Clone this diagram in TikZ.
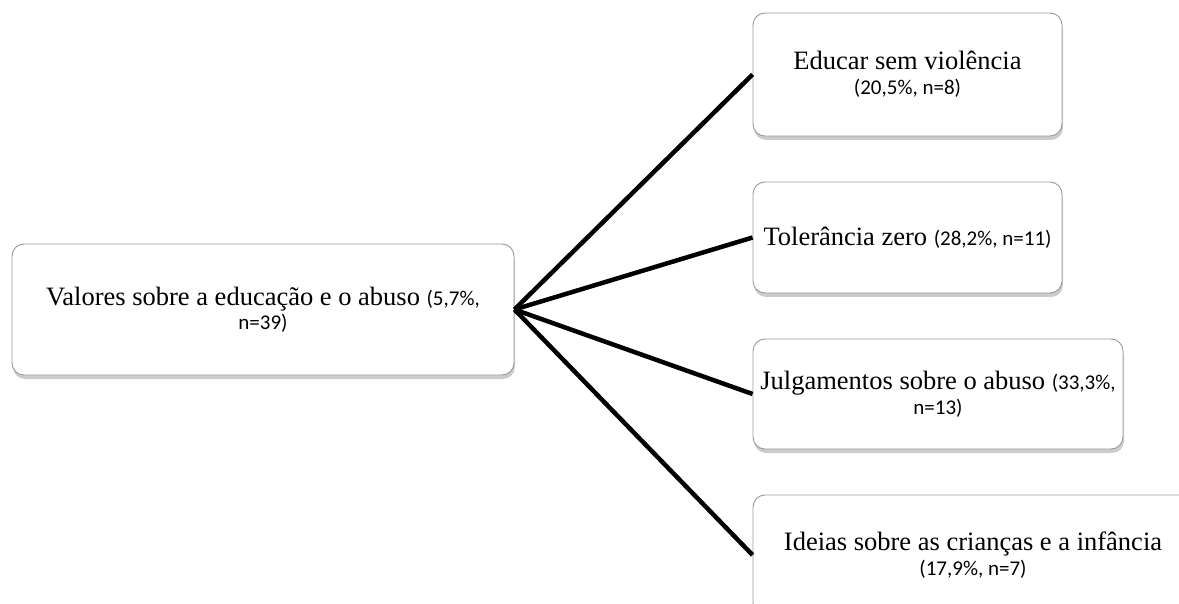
\documentclass[tikz,border=0pt]{standalone}
\usepackage{fontspec}
\setmainfont{Liberation Serif}
\newfontfamily\statfont{Carlito}
\usetikzlibrary{shadows}
\newcommand\statpct[1]{{\statfont\fontsize{21}{25}\selectfont #1}}

\begin{document}
\begin{tikzpicture}[x=1pt, y=-1pt, inner sep=3pt]
    \useasboundingbox (0,0) rectangle (1179,604);

    \tikzstyle{myBox}=[draw=gray!80, fill=white, rounded corners=12pt, line width=0.9pt,
        align=center, font=\fontsize{26.5}{25}\selectfont,
        drop shadow={shadow xshift=1pt, shadow yshift=-4pt, opacity=0.4}];
    \tikzstyle{myLine}=[line width=4.5pt];

    \node[myBox, minimum width=502, minimum height=131] (0) at (263,309.5)
        {Valores sobre a educação e o abuso \statpct{(5,7\%,}\\[-1pt] \statpct{n=39)}};
    \node[myBox, minimum width=309, minimum height=123] (1) at (907.5,74.5)
        {Educar sem violência\\ \statpct{(20,5\%, n=8)}};
    \node[myBox, minimum width=309, minimum height=111] (2) at (907.5,237.5)
        {Tolerância zero \statpct{(28,2\%, n=11)}};
    \node[myBox, minimum width=370, minimum height=110] (3) at (938,394)
        {Julgamentos sobre o abuso \statpct{(33,3\%,}\\ \statpct{n=13)}};
    \node[myBox, minimum width=440, minimum height=120] (4) at (973,555)
        {Ideias sobre as crianças e a infância\\ \statpct{(17,9\%, n=7)}};

    \draw[myLine] (0.east) -- (1.west);
    \draw[myLine] (0.east) -- (2.west);
    \draw[myLine] (0.east) -- (3.west);
    \draw[myLine] (0.east) -- (4.west);
\end{tikzpicture}
\end{document}
